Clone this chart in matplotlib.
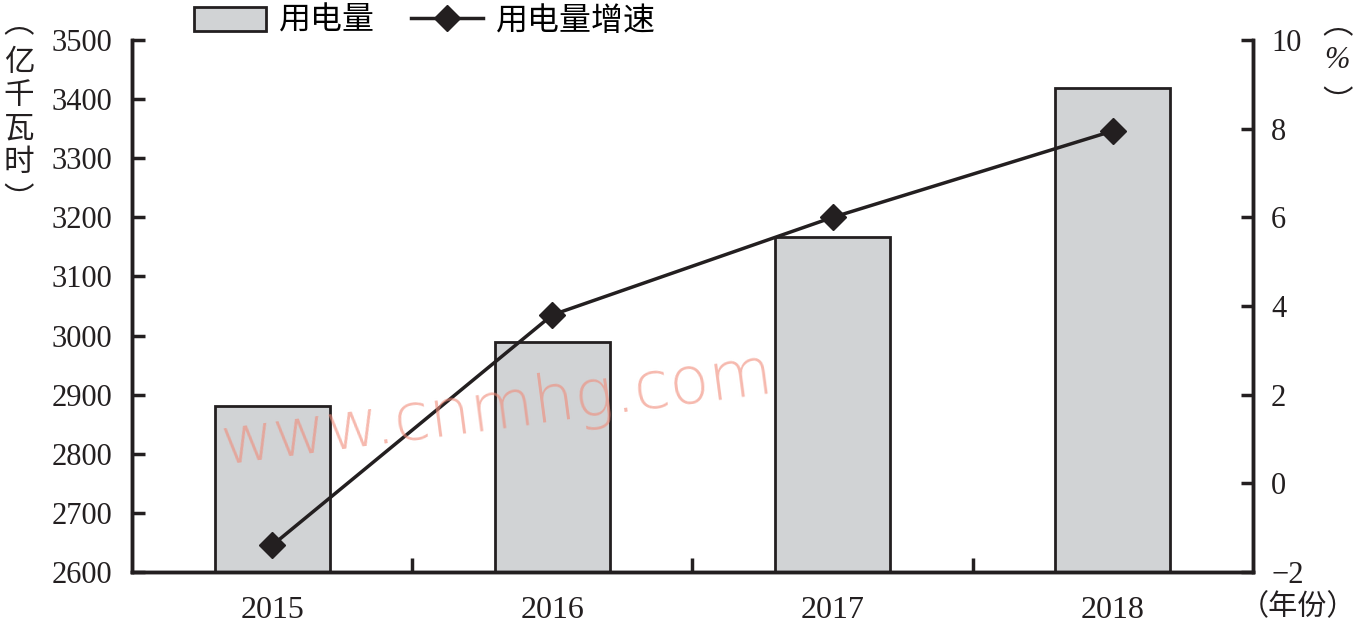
import numpy as np
import matplotlib.pyplot as plt
from matplotlib.lines import Line2D
from matplotlib.patches import Patch

# dados
anos = ['2015', '2016', '2017', '2018']
consumo = [2881, 2989, 3167, 3419]      # 亿千瓦时
crescimento = [-1.4, 3.8, 6.0, 7.95]    # %

serif = ['Liberation Serif', 'DejaVu Serif']
cjk = ['Noto Sans CJK SC', 'DejaVu Sans']
preto = '#231f20'

fig = plt.figure(figsize=(13.55, 6.26), dpi=100)
ax = fig.add_axes([0.0974, 0.0863, 0.8273, 0.8497])
ax2 = ax.twinx()

x = np.arange(len(anos))
ax.bar(x, consumo, width=0.41, color='#d1d3d5', edgecolor=preto, linewidth=2, zorder=2)
ax2.plot(x, crescimento, color=preto, linewidth=2.5, marker='D', markersize=13,
         markerfacecolor=preto, zorder=3)

ax.set_xlim(-0.5, 3.5)
ax.set_ylim(2600, 3500)
ax2.set_ylim(-2, 10)
ax.set_yticks(np.arange(2600, 3501, 100))
ax2.set_yticks(np.arange(-2, 11, 2))
ax2.set_yticklabels(['\u22122', '0', '2', '4', '6', '8', '10'])

# ticks do eixo x entre as categorias
ax.set_xticks([0.5, 1.5, 2.5])
ax.set_xticklabels([])
ax.set_xticks(x, minor=True)
ax.set_xticklabels(anos, minor=True)
ax.tick_params(axis='x', which='major', direction='in', length=10, width=2.5, color=preto)
ax.tick_params(axis='x', which='minor', length=0, pad=17, labelsize=23)
ax.tick_params(axis='y', direction='in', length=9, width=2.5, labelsize=22, pad=14, color=preto)
ax2.tick_params(axis='y', direction='in', length=9, width=2.5, labelsize=22, pad=13, color=preto)

for lab in ax.get_xticklabels(minor=True) + ax.get_yticklabels() + ax2.get_yticklabels():
    lab.set_fontfamily(serif)
    lab.set_color(preto)

for a in (ax, ax2):
    a.spines['top'].set_visible(False)
    for s in ('left', 'right', 'bottom'):
        a.spines[s].set_linewidth(2.5)
        a.spines[s].set_color(preto)

# rotulos dos eixos (parenteses verticais separados)
fig.text(0.014, 0.962, '︵', family=cjk, fontsize=22, va='center', ha='center', color=preto)
fig.text(0.014, 0.925, '亿\n千\n瓦\n时', family=cjk, fontsize=22, va='top', ha='center',
         linespacing=1.1, color=preto)
fig.text(0.014, 0.68, '︶', family=cjk, fontsize=22, va='center', ha='center', color=preto)

fig.text(0.987, 0.96, '︵', family=cjk, fontsize=22, va='center', ha='center', color=preto)
fig.text(0.987, 0.904, '%', family=serif, fontsize=22, style='italic', va='center', ha='center', color=preto)
fig.text(0.987, 0.835, '︶', family=cjk, fontsize=22, va='center', ha='center', color=preto)
fig.text(0.958, 0.03, '（年份）', family=cjk, fontsize=21, va='center', ha='center', color=preto)

# legenda
handles = [Patch(facecolor='#d1d3d5', edgecolor=preto, linewidth=2),
           Line2D([], [], color=preto, linewidth=2.5, marker='D', markersize=13)]
leg = fig.legend(handles, ['用电量', '用电量增速'], loc='upper left', bbox_to_anchor=(0.1432, 0.992),
                 ncol=2, frameon=False, prop={'family': cjk, 'size': 23},
                 borderpad=0, borderaxespad=0,
                 handlelength=2.25, handleheight=0.8, columnspacing=1.15, handletextpad=0.4)

# marca d'agua
fig.text(0.367, 0.345, 'www.cnmhg.com', fontsize=47, color='#f08a78', alpha=0.6,
         rotation=7.5, ha='center', va='center', family='DejaVu Sans', fontweight='light', zorder=10)

fig.savefig('out.png', dpi=100)
